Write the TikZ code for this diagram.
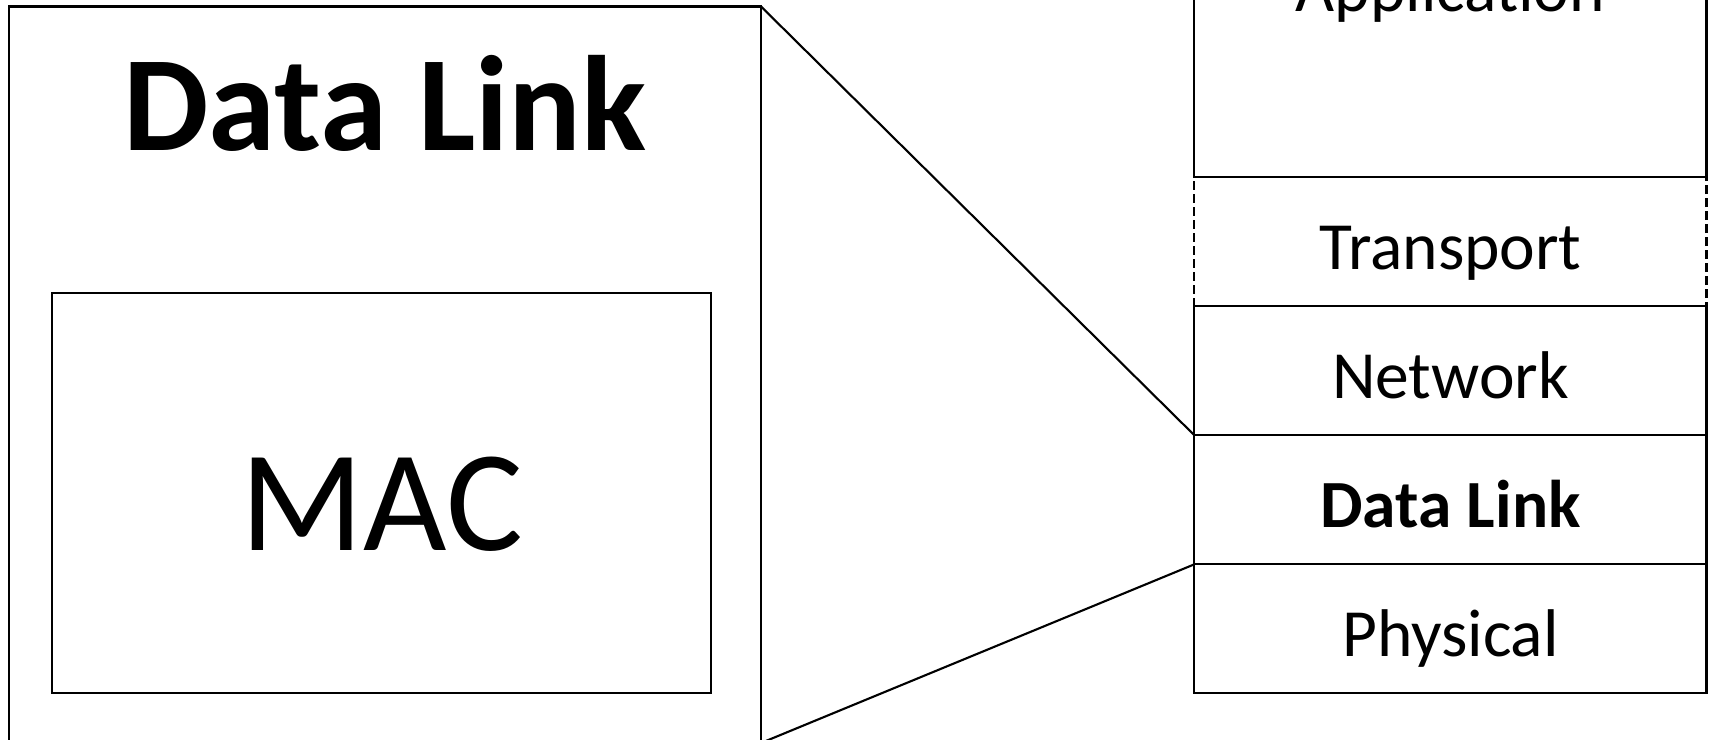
\documentclass[tikz,border=0pt]{standalone}
\usepackage{fontspec}
\setmainfont{Carlito}
\usetikzlibrary{positioning}

\begin{document}
\begin{tikzpicture}[
  line width=.6pt,
  frame/.style={draw, rectangle, outer sep=0pt, inner sep=0pt},
  layer/.style={frame, minimum width=5.121cm, minimum height=1.29cm, font=\fontsize{19.2}{22}\selectfont, text height=0.56cm, text depth=0pt}
]
  \useasboundingbox (0,0) rectangle (17.12,7.39);
  \clip (0,0) rectangle (17.12,7.39);

  % zoomed-in layer
  \node[frame, minimum width=7.523cm, minimum height=7.365cm] (bigbox) at (3.8485,3.6425) {};
  \node[anchor=base, font=\fontsize{38.6}{44}\selectfont\bfseries] (title) at (3.85,5.883) {Data Link};
  \node[frame, minimum width=6.584cm, minimum height=4.007cm, font=\fontsize{41}{46}\selectfont, text height=1.146cm, text depth=0pt] (mac) at (3.816,2.4605) {MAC};

  % protocol stack
  \node[layer, dash pattern=on 2.5pt off 1.2pt] (transport) at (14.5045,4.972) {Transport};
  \node[layer, minimum height=3.87cm, above=0pt of transport] (application) {Application};
  \node[layer, below=0pt of transport] (network) {Network};
  \node[layer, below=0pt of network, font=\fontsize{19.2}{22}\selectfont\bfseries] (datalink) {Data Link};
  \node[layer, below=0pt of datalink] (physical) {Physical};

  \draw (bigbox.north east) -- (datalink.north west);
  \draw (bigbox.south east) -- (datalink.south west);
\end{tikzpicture}
\end{document}
